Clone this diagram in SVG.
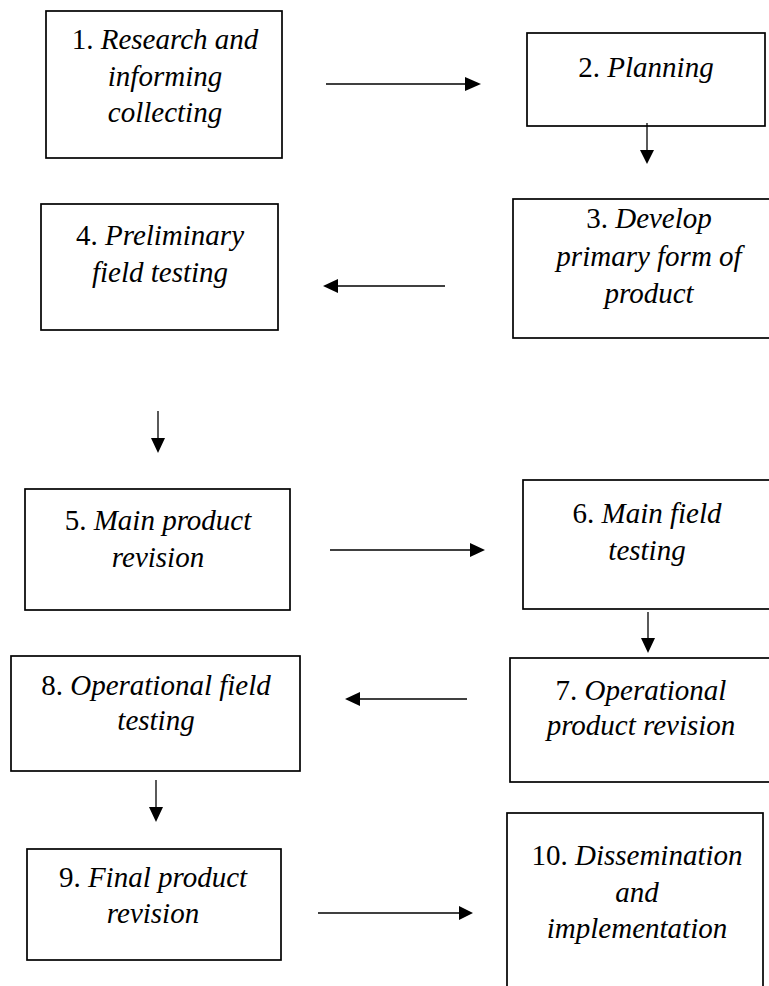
<svg xmlns="http://www.w3.org/2000/svg" width="769" height="986" viewBox="0 0 769 986">
<style>
.box{fill:#fff;stroke:#000;stroke-width:1.7}
.lbl{font-family:"Liberation Serif","Times New Roman",serif;font-size:29px;fill:#000;text-anchor:middle}
.it{font-style:italic}
.conn line{stroke:#000;stroke-width:1.3}
.conn polygon{fill:#000}
</style>
<rect width="769" height="986" fill="#fff"/>
<g id="n1">
<rect class="box" x="46" y="11" width="236" height="147"/>
<text class="lbl" x="165" y="49">1. <tspan class="it">Research and</tspan></text>
<text class="lbl it" x="165" y="86">informing</text>
<text class="lbl it" x="165" y="122">collecting</text>
</g>
<g id="n2">
<rect class="box" x="527" y="33" width="238" height="93"/>
<text class="lbl" x="646" y="77">2. <tspan class="it">Planning</tspan></text>
</g>
<g id="n3">
<rect class="box" x="513" y="199" width="280" height="139"/>
<text class="lbl" x="649" y="228">3. <tspan class="it">Develop</tspan></text>
<text class="lbl it" x="649" y="266">primary form of</text>
<text class="lbl it" x="649" y="303">product</text>
</g>
<g id="n4">
<rect class="box" x="41" y="204" width="237" height="126"/>
<text class="lbl" x="160" y="245">4. <tspan class="it">Preliminary</tspan></text>
<text class="lbl it" x="160" y="282">field testing</text>
</g>
<g id="n5">
<rect class="box" x="25" y="489" width="265" height="121"/>
<text class="lbl" x="158" y="530">5. <tspan class="it">Main product</tspan></text>
<text class="lbl it" x="158" y="567">revision</text>
</g>
<g id="n6">
<rect class="box" x="523" y="480" width="270" height="129"/>
<text class="lbl" x="647" y="523">6. <tspan class="it">Main field</tspan></text>
<text class="lbl it" x="647" y="560">testing</text>
</g>
<g id="n7">
<rect class="box" x="510" y="658" width="280" height="124"/>
<text class="lbl" x="641" y="700">7. <tspan class="it">Operational</tspan></text>
<text class="lbl it" x="641" y="735">product revision</text>
</g>
<g id="n8">
<rect class="box" x="11" y="656" width="289" height="115"/>
<text class="lbl" x="156" y="695">8. <tspan class="it">Operational field</tspan></text>
<text class="lbl it" x="156" y="730">testing</text>
</g>
<g id="n9">
<rect class="box" x="27" y="849" width="254" height="111"/>
<text class="lbl" x="153" y="887">9. <tspan class="it">Final product</tspan></text>
<text class="lbl it" x="153" y="923">revision</text>
</g>
<g id="n10">
<rect class="box" x="507" y="813" width="256" height="190"/>
<text class="lbl" x="637" y="865">10. <tspan class="it">Dissemination</tspan></text>
<text class="lbl it" x="637" y="902">and</text>
<text class="lbl it" x="637" y="938">implementation</text>
</g>
<g id="connectors" class="conn">
<line x1="326" y1="84" x2="466" y2="84"/><polygon points="465,77 481,84 465,91"/>
<line x1="647" y1="123" x2="647" y2="151"/><polygon points="640,150 647,164 654,150"/>
<line x1="445" y1="286" x2="337" y2="286"/><polygon points="338,279 323,286 338,293"/>
<line x1="158" y1="411" x2="158" y2="439"/><polygon points="151,438 158,453 165,438"/>
<line x1="330" y1="550" x2="471" y2="550"/><polygon points="470,543 485,550 470,557"/>
<line x1="648" y1="612" x2="648" y2="639"/><polygon points="641,638 648,653 655,638"/>
<line x1="467" y1="699" x2="359" y2="699"/><polygon points="360,692 345,699 360,706"/>
<line x1="156" y1="780" x2="156" y2="808"/><polygon points="149,807 156,822 163,807"/>
<line x1="318" y1="913" x2="460" y2="913"/><polygon points="459,906 473,913 459,920"/>
</g>
</svg>
